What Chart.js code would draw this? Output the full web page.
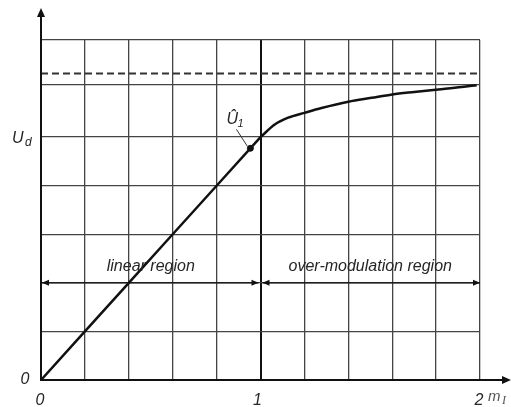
<!DOCTYPE html>
<html>
<head>
<meta charset="utf-8">
<script src="https://cdn.jsdelivr.net/npm/chart.js@4"></script>
<style>
  html, body { margin: 0; padding: 0; background: #fff; }
  #wrap { width: 511px; height: 407px; }
</style>
</head>
<body>
<div id="wrap"><canvas id="c" width="511" height="407"></canvas></div>
<script>
// Modulation index axis (m_I) and output voltage (in grid units, U_d = 5)
const linearM = [0, 0.2, 0.4, 0.6, 0.8, 1.0];
const linearU = [0, 1, 2, 3, 4, 5];
const overM = [1.0, 1.065, 1.126, 1.2, 1.278, 1.4, 1.506, 1.6, 1.7, 1.81, 1.917, 1.985];
const overU = [5.0, 5.26, 5.40, 5.50, 5.60, 5.73, 5.81, 5.88, 5.93, 5.98, 6.03, 6.07];
const limitM = [0, 2];
const limitU = [6.31, 6.31];
const markM = [0.954];
const markU = [4.77];
const yGridValues = [0, 1, 2, 3, 4, 5, 6.08, 7];
const xTickLabels = ['0', '1', '2'];
const xTickValues = [0, 1, 2];
const yTickLabels = ['0', 'U', 'd'];
const regionLabels = ['linear region', 'over-modulation region'];
const udValue = 5;
const regionArrowU = 2;

const pts = (xs, ys) => xs.map((x, i) => ({ x: x, y: ys[i] }));

const ITALIC = 'italic 16px "Liberation Sans", Arial, sans-serif';
const TEXT = '#262626';

function arrowHead(ctx, x, y, dir, len, half) {
  ctx.beginPath();
  if (dir === 'right') { ctx.moveTo(x, y); ctx.lineTo(x - len, y - half); ctx.lineTo(x - len, y + half); }
  if (dir === 'left')  { ctx.moveTo(x, y); ctx.lineTo(x + len, y - half); ctx.lineTo(x + len, y + half); }
  if (dir === 'up')    { ctx.moveTo(x, y); ctx.lineTo(x - half, y + len); ctx.lineTo(x + half, y + len); }
  ctx.closePath();
  ctx.fill();
}

const decorations = {
  id: 'decorations',
  afterDraw(chart) {
    const ctx = chart.ctx;
    const xs = chart.scales.x, ys = chart.scales.y;
    const x0 = xs.getPixelForValue(0), x1 = xs.getPixelForValue(1), x2 = xs.getPixelForValue(2);
    const y0 = ys.getPixelForValue(0);
    ctx.save();
    ctx.strokeStyle = '#111';
    ctx.fillStyle = '#111';
    ctx.lineWidth = 2;
    // axis extensions with arrowheads
    ctx.beginPath();
    ctx.moveTo(x0, y0); ctx.lineTo(x0, 14);
    ctx.moveTo(x0, y0); ctx.lineTo(506, y0);
    ctx.stroke();
    arrowHead(ctx, x0, 8, 'up', 9, 4);
    arrowHead(ctx, 511, y0, 'right', 9, 4);

    // region extent arrows
    const ya = ys.getPixelForValue(regionArrowU);
    ctx.lineWidth = 1.3;
    ctx.beginPath();
    ctx.moveTo(x0 + 1, ya); ctx.lineTo(x1 - 2, ya);
    ctx.moveTo(x1 + 2, ya); ctx.lineTo(x2, ya);
    ctx.stroke();
    arrowHead(ctx, x0 + 1, ya, 'left', 7, 3);
    arrowHead(ctx, x1 - 2, ya, 'right', 7, 3);
    arrowHead(ctx, x1 + 2, ya, 'left', 7, 3);
    arrowHead(ctx, x2, ya, 'right', 7, 3);

    // region labels
    ctx.fillStyle = TEXT;
    ctx.font = ITALIC;
    ctx.textAlign = 'center';
    ctx.textBaseline = 'alphabetic';
    ctx.fillText(regionLabels[0], xs.getPixelForValue(0.5), ya - 12);
    ctx.fillText(regionLabels[1], xs.getPixelForValue(1.5), ya - 12);

    // x tick labels
    ctx.textBaseline = 'middle';
    xTickValues.forEach((v, i) => {
      ctx.fillText(xTickLabels[i], xs.getPixelForValue(v) - (i === 1 ? 3 : 1), 401);
    });
    // m_I axis name
    ctx.textAlign = 'left';
    ctx.fillStyle = '#555';
    ctx.font = 'italic 15px "Liberation Sans", Arial, sans-serif';
    ctx.fillText('m', 488, 397);
    ctx.font = 'italic 12px "Liberation Serif", "Times New Roman", serif';
    ctx.fillText('I', 502, 401);

    // y tick labels
    ctx.fillStyle = TEXT;
    ctx.font = ITALIC;
    ctx.textAlign = 'center';
    ctx.fillText(yTickLabels[0], 25, y0);
    const yUd = ys.getPixelForValue(udValue);
    ctx.font = 'italic 16px "Liberation Sans", Arial, sans-serif';
    ctx.textAlign = 'left';
    ctx.textBaseline = 'alphabetic';
    ctx.fillText(yTickLabels[1], 12, yUd + 6);
    ctx.font = 'italic 12px "Liberation Sans", Arial, sans-serif';
    ctx.fillText(yTickLabels[2], 25, yUd + 9);

    // fundamental amplitude label with leader line
    const mx = xs.getPixelForValue(markM[0]), my = ys.getPixelForValue(markU[0]);
    ctx.strokeStyle = '#333';
    ctx.lineWidth = 1;
    ctx.beginPath();
    ctx.moveTo(mx - 14, my - 19);
    ctx.lineTo(mx - 3, my - 2);
    ctx.stroke();
    ctx.font = 'italic 16px "Liberation Sans", Arial, sans-serif';
    ctx.fillText('\u00DB', mx - 24, my - 24);
    ctx.font = 'italic 11px "Liberation Sans", Arial, sans-serif';
    ctx.fillText('1', mx - 13, my - 21);
    ctx.restore();
  }
};

new Chart(document.getElementById('c'), {
  type: 'line',
  data: {
    datasets: [
      { data: pts(linearM, linearU), borderColor: '#111', borderWidth: 2.5, pointRadius: 0, tension: 0 },
      { data: pts(overM, overU), borderColor: '#111', borderWidth: 2.5, pointRadius: 0, cubicInterpolationMode: 'monotone' },
      { data: pts(limitM, limitU), borderColor: '#333', borderWidth: 2, borderDash: [7, 4], pointRadius: 0 },
      { data: pts(markM, markU), showLine: false, pointRadius: 3, pointBackgroundColor: '#111', pointBorderColor: '#111' }
    ]
  },
  options: {
    responsive: false,
    animation: false,
    events: [],
    layout: { padding: { left: 41, right: 31, top: 40, bottom: 27 } },
    plugins: { legend: { display: false }, tooltip: { enabled: false } },
    scales: {
      x: {
        type: 'linear', min: 0, max: 2,
        ticks: { display: false, stepSize: 0.2 },
        grid: {
          drawTicks: false,
          color: ctx => Math.abs(ctx.tick.value - 1) < 1e-6 ? '#111' : '#444',
          lineWidth: ctx => Math.abs(ctx.tick.value - 1) < 1e-6 ? 2 : 1.3
        },
        border: { display: true, color: '#111', width: 2 }
      },
      y: {
        type: 'linear', min: 0, max: 7,
        afterBuildTicks: axis => { axis.ticks = yGridValues.map(v => ({ value: v })); },
        ticks: { display: false },
        grid: { drawTicks: false, color: '#444', lineWidth: 1.3 },
        border: { display: true, color: '#111', width: 2 }
      }
    }
  },
  plugins: [decorations]
});
</script>
</body>
</html>
